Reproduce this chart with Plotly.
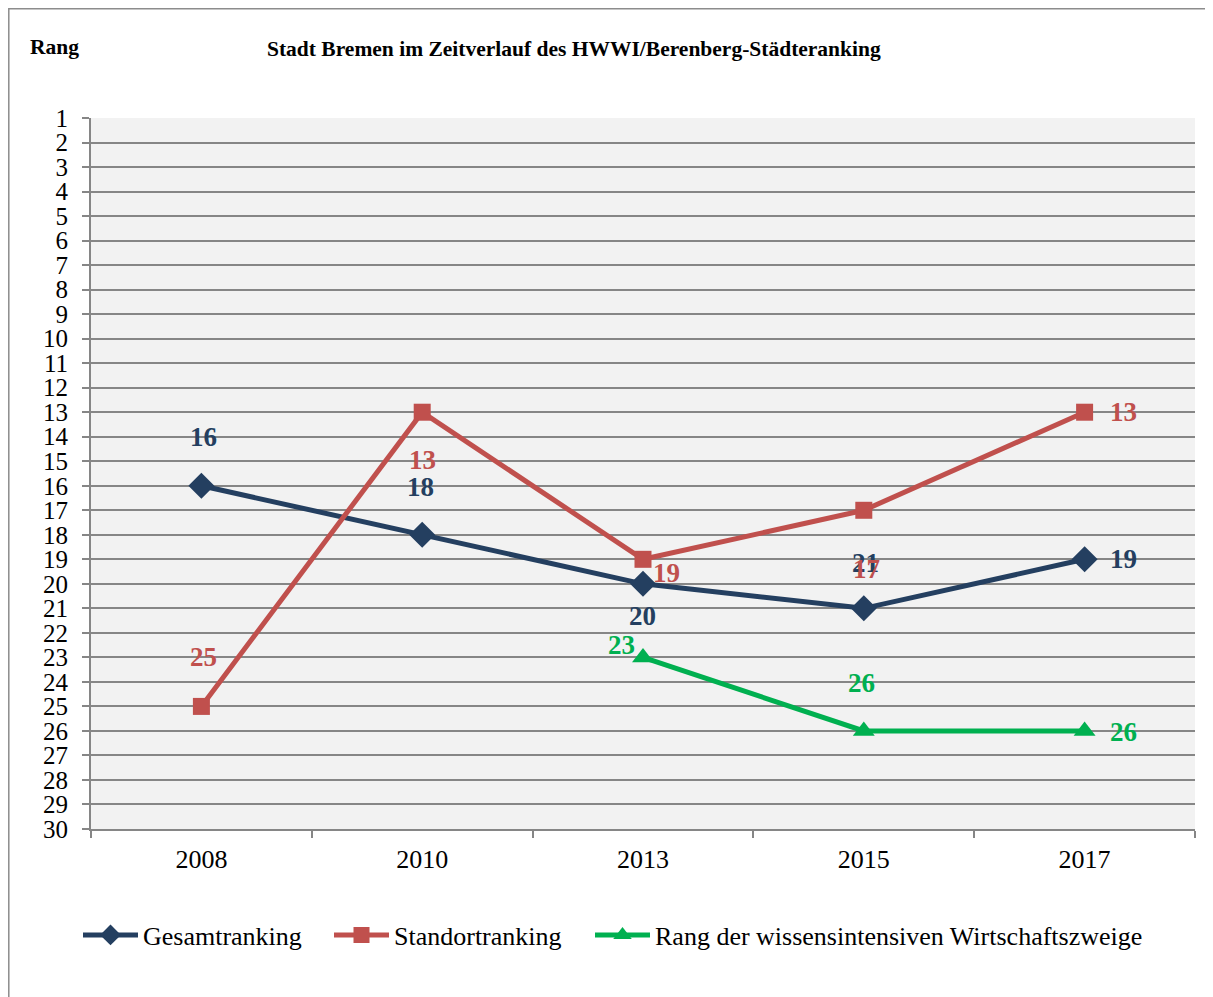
import plotly.graph_objects as go

years = ["2008", "2010", "2013", "2015", "2017"]
gesamt = [16, 18, 20, 21, 19]
standort = [25, 13, 19, 17, 13]
wissen = [None, None, 23, 26, 26]

x_idx = list(range(len(years)))

# label offsets in px (dx, dy) per point, dy positive = up
gesamt_off = [(2, 49), (-2, 48), (-1, -32), (2, 45), (39, 0)]
standort_off = [(2, 49), (0, -48), (23, -14), (3, -59), (39, 0)]
wissen_off = [None, None, (-22, 12), (-2, 48), (39, -1)]

navy = "#243F60"
red = "#C0504D"
green = "#00B050"
font = "Liberation Serif, Times New Roman, serif"

# page is shown with an 8px body margin
W, H = 1205, 989
L, R, T, B = 83, 18, 110, 168
pw, ph = W - L - R, H - T - B

def px_x(page_x):
    return (page_x - 8 - L) / pw

def px_y(page_y):
    return (T + ph - (page_y - 8)) / ph

fig = go.Figure()

series = [
    ("Gesamtranking", gesamt, navy, "diamond", 20, gesamt_off, "legend", 78),
    ("Standortranking", standort, red, "square", 17, standort_off, "legend2", 329),
    ("Rang der wissensintensiven Wirtschaftszweige", wissen, green, "triangle-up", 19, wissen_off, "legend3", 590),
]

legends = {}
for name, vals, col, sym, msize, offs, leg, lx in series:
    fig.add_trace(go.Scatter(
        x=x_idx, y=vals, name=name, mode="lines+markers",
        line=dict(color=col, width=5),
        marker=dict(symbol=sym, size=msize, color=col),
        legend=leg,
    ))
    legends[leg] = dict(orientation="h", x=px_x(lx), xanchor="left",
                        y=px_y(935), yanchor="middle", itemwidth=55,
                        font=dict(size=26), bgcolor="rgba(0,0,0,0)")
    for i, v in enumerate(vals):
        if v is None:
            continue
        dx, dy = offs[i]
        fig.add_annotation(
            x=x_idx[i], y=v, text="<b>%d</b>" % v, showarrow=False,
            xshift=dx, yshift=dy,
            font=dict(family=font, size=27, color=col),
        )

# outer chart border
fig.add_shape(type="rect", xref="paper", yref="paper",
              x0=(0.8 - L) / pw, x1=(W + 5 - L) / pw,
              y0=-(B + 5) / ph, y1=1 + (T - 0.8) / ph,
              line=dict(color="#8C8C8C", width=1.5), layer="below")

fig.add_annotation(text="<b>Stadt Bremen im Zeitverlauf des HWWI/Berenberg-Städteranking</b>",
                   xref="paper", yref="paper", x=px_x(574), y=px_y(49),
                   xanchor="center", yanchor="middle",
                   showarrow=False, font=dict(family=font, size=21.5, color="black"))
fig.add_annotation(text="<b>Rang</b>", xref="paper", yref="paper",
                   x=px_x(54), y=px_y(47), xanchor="center", yanchor="middle",
                   showarrow=False, font=dict(family=font, size=21.5, color="black"))

fig.update_layout(
    width=W, height=H,
    margin=dict(l=L, r=R, t=T, b=B),
    paper_bgcolor="white",
    plot_bgcolor="#F2F2F2",
    font=dict(family=font, size=26, color="black"),
    showlegend=True,
    xaxis=dict(
        range=[-0.5, len(years) - 0.5],
        tickvals=x_idx, ticktext=years, ticks="",
        showgrid=False, zeroline=False,
        showline=True, linecolor="#868686", linewidth=2,
        tickfont=dict(size=26), ticklabelstandoff=6,
        minor=dict(tickvals=[i - 0.5 for i in range(len(years) + 1)],
                   ticks="outside", ticklen=7, tickcolor="#868686", tickwidth=2,
                   showgrid=False),
    ),
    yaxis=dict(
        range=[30, 1], tickvals=list(range(1, 31)),
        ticks="outside", ticklen=7, tickcolor="#868686", tickwidth=2,
        showgrid=True, gridcolor="#868686", gridwidth=2,
        zeroline=False, showline=True, linecolor="#868686", linewidth=2,
        tickfont=dict(size=25), ticklabelstandoff=9,
    ),
    **legends,
)

fig.write_html("out.html")
